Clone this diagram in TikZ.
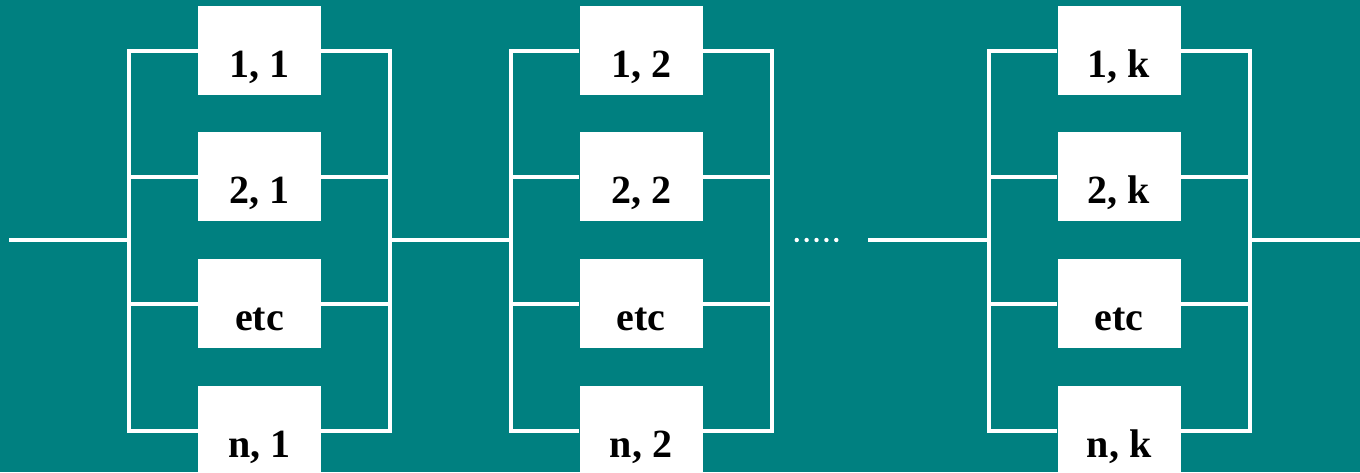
\documentclass[tikz,border=0pt]{standalone}
\usepackage{fontspec}
\setmainfont{Liberation Serif}
\definecolor{bgteal}{RGB}{0,128,128}
\begin{document}
\begin{tikzpicture}[x=1pt,y=-1pt,
  unitbox/.style={fill=white, draw=none, inner sep=0pt, minimum width=123pt,
    text height=71pt, text depth=18pt, text=black,
    font=\fontsize{40}{48}\selectfont\bfseries},
  wire/.style={draw=white, line width=4pt, line join=miter}]
\fill[bgteal] (0,0) rectangle (1360,472);
\useasboundingbox (0,0) rectangle (1360,472);
% columns: center x, left vertical, right vertical
\foreach \c/\cx/\lab in {1/259.5/1, 2/641/2, 3/1119/k}{
  \coordinate (L\c) at (\cx-130.5,240);
  \coordinate (R\c) at (\cx+130.5,240);
  \node[unitbox] (b1\c) at (\cx,50.5) {1, \lab};
  \node[unitbox] (b2\c) at (\cx,176.5) {2, \lab};
  \node[unitbox] (be\c) at (\cx,303.5) {etc};
  \node[unitbox] (bn\c) at (\cx,430.5) {n, \lab};
  \draw[wire] (b1\c.west) -- (b1\c.west -| L\c) -- (bn\c.west -| L\c) -- (bn\c.west);
  \draw[wire] (b1\c.east) -- (b1\c.east -| R\c) -- (bn\c.east -| R\c) -- (bn\c.east);
  \draw[wire] (b2\c.west -| L\c) -- (b2\c.west);
  \draw[wire] (b2\c.east) -- (b2\c.east -| R\c);
  \draw[wire] (be\c.west -| L\c) -- (be\c.west);
  \draw[wire] (be\c.east) -- (be\c.east -| R\c);
}
\coordinate (in) at (9,240);
\coordinate (out) at (1360,240);
\coordinate (gapstart) at (868,240);
\draw[wire] (in) -- (L1);
\draw[wire] (R1) -- (L2);
\draw[wire] (gapstart) -- (L3);
\draw[wire] (R3) -- (out);
\foreach \x in {796.7,806.6,816.5,826.4,836.3}
  \fill[white] (\x,240) circle (2.2);
\end{tikzpicture}
\end{document}
